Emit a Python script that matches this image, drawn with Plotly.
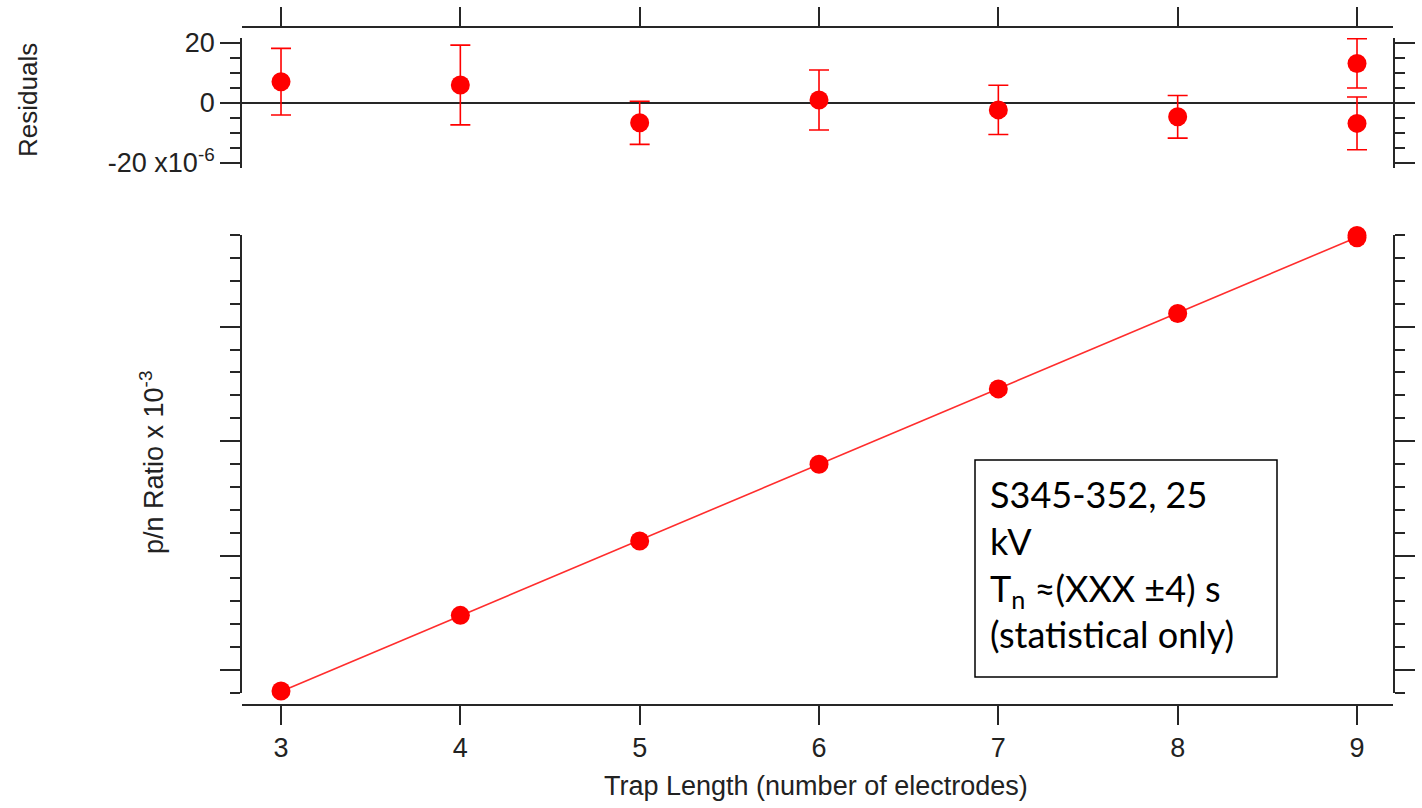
import numpy as np
import plotly.graph_objects as go

# Canvas size in pixels; paper coordinates are derived from it (no margins)
W, H = 1422, 808


def fx(p):
    return p / W


def fy(p):
    return 1 - p / H


# ---- data -------------------------------------------------------------
trap_length = [3, 4, 5, 6, 7, 8, 9, 9]                                   # number of electrodes
pn_ratio = [0.817, 1.478, 2.127, 2.797, 3.456, 4.115, 4.795, 4.775]      # x 10^-3
residuals = [7.1, 6.0, -6.6, 1.0, -2.3, -4.6, 13.2, -6.8]                # x 10^-6
residual_err = [11.1, 13.3, 7.2, 10.0, 8.2, 7.1, 8.2, 8.8]              # x 10^-6

x_ticks = [3, 4, 5, 6, 7, 8, 9]
res_tick_vals = [-20, 0, 20]
res_tick_text = ["-20 x10<sup>-6</sup>", "0", "20"]

# linear fit through the ratio data
coef = np.polyfit(trap_length, pn_ratio, 1)
fit_x = [min(trap_length), max(trap_length)]
fit_y = list(np.polyval(coef, fit_x))

# ---- styling ----------------------------------------------------------
RED = "rgb(255,0,0)"
AX = "#262626"
AXW = 1.8
ARIAL = "Liberation Sans, Arial, sans-serif"
TICK_FONT = dict(family=ARIAL, size=27, color="#222")
X_RANGE = [2.7825, 9.2007]
X_DOMAIN = [fx(242), fx(1393)]

fig = go.Figure()

fig.add_trace(go.Scatter(
    x=fit_x, y=fit_y, mode="lines",
    line=dict(color="rgb(255,45,45)", width=1.6),
    xaxis="x", yaxis="y", showlegend=False, hoverinfo="skip", cliponaxis=False,
))
fig.add_trace(go.Scatter(
    x=trap_length, y=pn_ratio, mode="markers",
    marker=dict(color=RED, size=19),
    xaxis="x", yaxis="y", showlegend=False, cliponaxis=False,
))
fig.add_trace(go.Scatter(
    x=trap_length, y=residuals, mode="markers",
    marker=dict(color=RED, size=19),
    error_y=dict(type="data", array=residual_err, visible=True,
                 color=RED, thickness=1.6, width=10),
    xaxis="x2", yaxis="y2", showlegend=False, cliponaxis=False,
))

common_x = dict(
    domain=X_DOMAIN, range=X_RANGE, showline=True, linecolor=AX, linewidth=AXW,
    ticks="outside", ticklen=19, tickwidth=AXW, tickcolor=AX,
    tickmode="array", tickvals=x_ticks, showgrid=False, zeroline=False,
    automargin=False,
)

fig.update_layout(
    template="none",
    width=W, height=H,
    margin=dict(l=0, r=0, t=0, b=0, pad=0, autoexpand=False),
    paper_bgcolor="white", plot_bgcolor="white",
    xaxis=dict(
        **common_x, anchor="free", position=fy(705),
        tickfont=TICK_FONT, showticklabels=True,
    ),
    yaxis=dict(
        domain=[fy(693), fy(235)], range=[0.7999, 4.8001], anchor="x",
        showline=True, linecolor=AX, linewidth=AXW, mirror="ticks",
        ticks="outside", ticklen=20, tickwidth=AXW, tickcolor=AX,
        tickmode="linear", tick0=0, dtick=1, showticklabels=False,
        minor=dict(ticks="outside", ticklen=10, tickwidth=AXW, tickcolor=AX,
                   tickmode="linear", tick0=0, dtick=0.2, showgrid=False),
        showgrid=False, zeroline=False, automargin=False,
    ),
    xaxis2=dict(
        **common_x, anchor="free", position=fy(27), side="top",
        showticklabels=False,
    ),
    yaxis2=dict(
        domain=[fy(168), fy(38)], range=[-21.67, 21.67], anchor="x2",
        showline=True, linecolor=AX, linewidth=AXW, mirror="ticks",
        ticks="outside", ticklen=20, tickwidth=AXW, tickcolor=AX,
        tickmode="array", tickvals=res_tick_vals, ticktext=res_tick_text,
        tickfont=TICK_FONT,
        minor=dict(ticks="outside", ticklen=10, tickwidth=AXW, tickcolor=AX,
                   tickmode="linear", tick0=0, dtick=5, showgrid=False),
        showgrid=False, zeroline=True, zerolinecolor=AX, zerolinewidth=AXW,
        automargin=False,
    ),
)

# axis titles
title_font = dict(family=ARIAL, size=27, color="#222")
fig.add_annotation(text="Residuals", x=fx(28), y=fy(100), xref="paper", yref="paper",
                   textangle=-90, showarrow=False, font=dict(title_font, size=26),
                   xanchor="center", yanchor="middle")
fig.add_annotation(text="p/n Ratio x 10<sup>-3</sup>", x=fx(152), y=fy(463),
                   xref="paper", yref="paper", textangle=-90, showarrow=False,
                   font=title_font, xanchor="center", yanchor="middle")
fig.add_annotation(text="Trap Length (number of electrodes)", x=fx(816), y=fy(786),
                   xref="paper", yref="paper", showarrow=False, font=title_font,
                   xanchor="center", yanchor="middle")

# result box
fig.add_shape(type="rect", xref="paper", yref="paper",
              x0=fx(975), x1=fx(1277), y0=fy(677), y1=fy(460),
              line=dict(color="black", width=1.5), fillcolor="white")
fig.add_annotation(
    text="S345-352, 25<br>kV<br>T<sub>n</sub> ≈(XXX ±4) s<br>(statistical only)",
    x=fx(988), y=fy(470), xref="paper", yref="paper", showarrow=False,
    xanchor="left", yanchor="top", align="left",
    font=dict(family="Lato, Carlito, sans-serif", size=36, color="black"),
)

fig.write_html("out.html")
